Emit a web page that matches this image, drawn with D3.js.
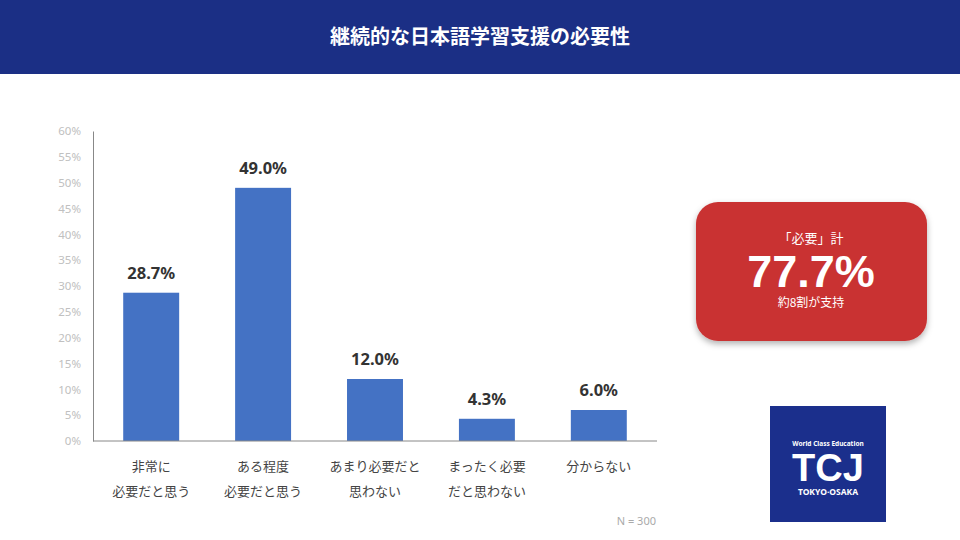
<!DOCTYPE html>
<html>
<head>
<meta charset="utf-8">
<script src="https://cdn.jsdelivr.net/npm/d3@7"></script>
<style>
  body { margin: 0; background: #fff; }
  text { font-family: "Noto Sans CJK JP", "Noto Sans", sans-serif; }
</style>
</head>
<body>
<script>
var width = 960, height = 540;

// data
var categories = ["非常に\n必要だと思う", "ある程度\n必要だと思う", "あまり必要だと\n思わない", "まったく必要\nだと思わない", "分からない"];
var values = [28.7, 49.0, 12.0, 4.3, 6.0];
var yTicks = [0, 5, 10, 15, 20, 25, 30, 35, 40, 45, 50, 55, 60];

var svg = d3.select("body").append("svg")
    .attr("width", width)
    .attr("height", height);

var defs = svg.append("defs");
var f = defs.append("filter").attr("id", "shadow").attr("x", "-10%").attr("y", "-10%").attr("width", "120%").attr("height", "130%");
f.append("feDropShadow").attr("dx", 0).attr("dy", 3).attr("stdDeviation", 3).attr("flood-color", "#000").attr("flood-opacity", 0.3);

// header band
svg.append("rect").attr("x", 0).attr("y", 0).attr("width", width).attr("height", 74).attr("fill", "#1b2f85");
svg.append("text")
    .attr("x", 480).attr("y", 44)
    .attr("text-anchor", "middle")
    .attr("fill", "#fff")
    .attr("font-size", 20)
    .attr("font-weight", "bold")
    .text("継続的な日本語学習支援の必要性");

var xScale = d3.scaleBand().domain(categories).range([93, 657]).paddingInner(0.5).paddingOuter(0.27),
    yScale = d3.scaleLinear().domain([0, 60]).range([441, 131]);

// y axis
var yAxis = svg.append("g")
    .attr("transform", "translate(93,0)")
    .call(d3.axisLeft(yScale).tickValues(yTicks).tickSize(0).tickPadding(12).tickFormat(function(d) { return d + "%"; }));
yAxis.select(".domain").attr("stroke", "#888");
yAxis.selectAll("text").attr("fill", "#c0c0c0").attr("font-size", 11.5).style("font-family", "'Noto Sans', sans-serif");

// bars
svg.selectAll(".bar")
    .data(values)
    .enter().append("rect")
    .attr("class", "bar")
    .attr("x", function(d, i) { return xScale(categories[i]); })
    .attr("y", function(d) { return yScale(d); })
    .attr("width", xScale.bandwidth())
    .attr("height", function(d) { return yScale(0) - yScale(d); })
    .attr("fill", "#4472c4");

// baseline
svg.append("line")
    .attr("x1", 93).attr("x2", 657)
    .attr("y1", yScale(0)).attr("y2", yScale(0))
    .attr("stroke", "#888");

// value labels
svg.selectAll(".val")
    .data(values)
    .enter().append("text")
    .attr("class", "val")
    .attr("x", function(d, i) { return xScale(categories[i]) + xScale.bandwidth() / 2; })
    .attr("y", function(d) { return yScale(d) - 14; })
    .attr("text-anchor", "middle")
    .attr("fill", "#333")
    .attr("font-size", 16.5)
    .attr("font-weight", "bold")
    .style("font-family", "'Noto Sans', sans-serif")
    .text(function(d) { return d.toFixed(1) + "%"; });

// category labels
svg.selectAll(".cat")
    .data(categories)
    .enter().append("text")
    .attr("class", "cat")
    .attr("text-anchor", "middle")
    .attr("fill", "#444")
    .attr("font-size", 13)
    .each(function(d) {
      var t = d3.select(this);
      var cx = xScale(d) + xScale.bandwidth() / 2;
      d.split("\n").forEach(function(line, j) {
        t.append("tspan").attr("x", cx).attr("y", 471 + j * 25).text(line);
      });
    });

svg.append("text")
    .attr("x", 656).attr("y", 525)
    .attr("text-anchor", "end")
    .attr("fill", "#aaa")
    .attr("font-size", 11)
    .style("font-family", "'Noto Sans', sans-serif")
    .text("N = 300");

// red callout
var box = svg.append("g");
box.append("rect")
    .attr("x", 696).attr("y", 202).attr("width", 231).attr("height", 139)
    .attr("rx", 22)
    .attr("fill", "#c93232")
    .attr("filter", "url(#shadow)");
box.append("text").attr("x", 811).attr("y", 243).attr("text-anchor", "middle")
    .attr("fill", "#fff").attr("font-size", 13).text("「必要」計");
box.append("text").attr("x", 811).attr("y", 287).attr("text-anchor", "middle")
    .attr("fill", "#fff").attr("font-size", 45).attr("font-weight", "bold")
    .style("font-family", "'Liberation Sans', sans-serif").text("77.7%");
box.append("text").attr("x", 811).attr("y", 307).attr("text-anchor", "middle")
    .attr("fill", "#fff").attr("font-size", 12).text("約8割が支持");

// logo
var logo = svg.append("g");
logo.append("rect").attr("x", 770).attr("y", 406).attr("width", 116).attr("height", 116).attr("fill", "#1b2f8c");
logo.append("text").attr("x", 828).attr("y", 446).attr("text-anchor", "middle")
    .attr("fill", "#fff").attr("font-size", 6.5).attr("font-weight", "bold")
    .style("font-family", "'Noto Sans', sans-serif").text("World Class Education");
logo.append("text").attr("x", 828).attr("y", 481).attr("text-anchor", "middle")
    .attr("fill", "#fff").attr("font-size", 38).attr("font-weight", "bold")
    .style("font-family", "'Liberation Sans', sans-serif").text("TCJ");
logo.append("text").attr("x", 828).attr("y", 495).attr("text-anchor", "middle")
    .attr("fill", "#fff").attr("font-size", 8.5).attr("font-weight", "bold")
    .style("font-family", "'Noto Sans', sans-serif").text("TOKYO·OSAKA");
</script>
</body>
</html>
